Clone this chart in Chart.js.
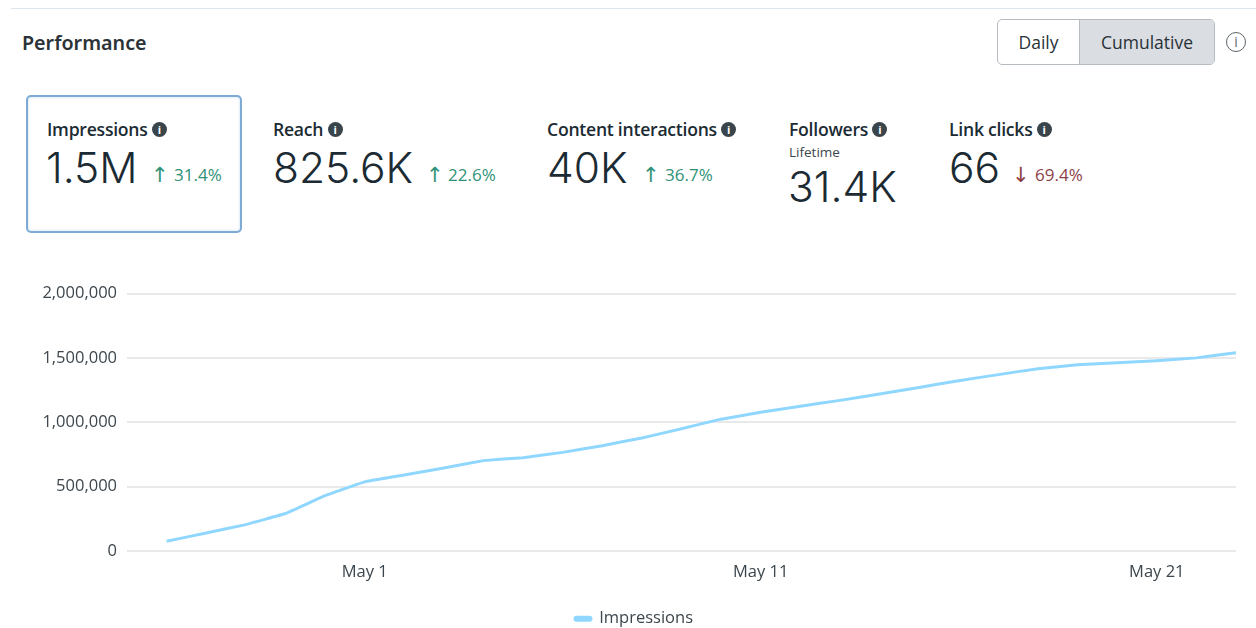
<!DOCTYPE html>
<html>
<head>
<meta charset="utf-8">
<script src="https://cdn.jsdelivr.net/npm/chart.js@4/dist/chart.umd.min.js"></script>
<style>
html, body { margin: 0; padding: 0; background: #fff; }
body { width: 1256px; height: 628px; position: relative; overflow: hidden; font-family: "Open Sans", sans-serif; color: #1c2b33; }
.abs { position: absolute; white-space: nowrap; }
#topline { left: 11px; right: 0; top: 8px; height: 1px; background: #dde8ee; }
#title { left: 22px; top: 31px; font: 600 19.7px/24px "Noto Sans", sans-serif; color: #2b3338; }
#toggle { left: 997px; top: 19px; width: 216px; height: 44px; border: 1px solid #b6bcc2; border-radius: 5px; display: flex; overflow: hidden; font-size: 17.5px; line-height: 44px; text-align: center; color: #283238; }
#toggle div:first-child { width: 81px; border-right: 1px solid #b6bcc2; }
#toggle div:last-child { flex: 1; background: #dadde2; }
#help { left: 1226px; top: 32px; width: 18px; height: 18px; border: 1.5px solid #5d656b; border-radius: 50%; text-align: center; font: 400 14px/18px "Open Sans", sans-serif; color: #5d656b; }
#card { left: 26px; top: 95px; width: 212px; height: 134px; border: 2px solid #7eabd6; border-radius: 5px; box-shadow: inset 0 0 3px #c6dcef; }
.label { font: 600 17.6px/22px "Open Sans", sans-serif; color: #1c2b33; letter-spacing: -0.25px; }
.dot { display: inline-block; width: 15px; height: 15px; border-radius: 50%; background: #3a444b; color: #fff; font: 700 11px/15px "Open Sans", sans-serif; text-align: center; vertical-align: 2px; letter-spacing: 0; }
.num { font: 300 42.5px/50px Inter, sans-serif; color: #1c2b33; }
.delta { font: 400 17px/22px "Open Sans", sans-serif; }
.arrow { font: 400 21px/22px "DejaVu Sans", sans-serif; }
.up { color: #2f9278; }
.down { color: #8d3f47; }
.sub { font: 400 13.5px/18px "Open Sans", sans-serif; color: #3c464c; }
#chartbox { position: absolute; left: 32px; top: 270px; width: 1224px; height: 367px; }
</style>
</head>
<body>
<div class="abs" id="topline"></div>
<div class="abs" id="title">Performance</div>
<div class="abs" id="toggle"><div>Daily</div><div>Cumulative</div></div>
<div class="abs" id="help">i</div>
<div class="abs" id="card"></div>

<div class="abs label" style="left:47px;top:118px">Impressions <span class="dot">i</span></div>
<div class="abs num" style="left:46px;top:143px">1.5M</div>
<div class="abs arrow up" style="left:151px;top:164px">↑</div>
<div class="abs delta up" style="left:174px;top:164px">31.4%</div>

<div class="abs label" style="left:273px;top:118px">Reach <span class="dot">i</span></div>
<div class="abs num" style="left:273px;top:143px">825.6K</div>
<div class="abs arrow up" style="left:426px;top:164px">↑</div>
<div class="abs delta up" style="left:448px;top:164px">22.6%</div>

<div class="abs label" style="left:547px;top:118px">Content interactions <span class="dot">i</span></div>
<div class="abs num" style="left:547px;top:143px">40K</div>
<div class="abs arrow up" style="left:642px;top:164px">↑</div>
<div class="abs delta up" style="left:665px;top:164px">36.7%</div>

<div class="abs label" style="left:789px;top:118px">Followers <span class="dot">i</span></div>
<div class="abs sub" style="left:789px;top:143px">Lifetime</div>
<div class="abs num" style="left:788px;top:162px">31.4K</div>

<div class="abs label" style="left:949px;top:118px">Link clicks <span class="dot">i</span></div>
<div class="abs num" style="left:949px;top:143px">66</div>
<div class="abs arrow down" style="left:1012px;top:164px">↓</div>
<div class="abs delta down" style="left:1035px;top:164px">69.4%</div>

<div id="chartbox"><canvas id="chart" width="1224" height="367"></canvas></div>

<script>
// first label is the empty day the axis leaves before the data starts
const days = ["Apr 25", "Apr 26", "Apr 27", "Apr 28", "Apr 29", "Apr 30",
  "May 1", "May 2", "May 3", "May 4", "May 5", "May 6", "May 7", "May 8", "May 9", "May 10",
  "May 11", "May 12", "May 13", "May 14", "May 15", "May 16", "May 17", "May 18", "May 19", "May 20",
  "May 21", "May 22", "May 23"];
const impressions = [null, 76000, 140000, 205000, 291000, 430000,
  537000, 590000, 644000, 702000, 725000, 766000, 818000, 878000, 950000, 1024000,
  1078000, 1125000, 1170000, 1220000, 1270000, 1323000, 1370000, 1416000, 1447000, 1463000,
  1478000, 1500000, 1540000];
const xTickLabels = ["May 1", "May 11", "May 21"];
const yTickValues = [0, 500000, 1000000, 1500000, 2000000];

const tickFont = { family: "'Open Sans', sans-serif", size: 16.5 };

new Chart(document.getElementById("chart"), {
  type: "line",
  data: {
    labels: days,
    datasets: [{
      label: "Impressions",
      data: impressions,
      borderColor: "#90d7ff",
      backgroundColor: "#90d7ff",
      borderWidth: 3,
      pointRadius: 0,
      tension: 0.05
    }]
  },
  options: {
    responsive: false,
    animation: false,
    layout: { padding: { top: 23.5, right: 20, left: 0, bottom: 0 } },
    scales: {
      x: {
        offset: false,
        grid: { display: false },
        border: { display: false },
        ticks: {
          autoSkip: false,
          maxRotation: 0,
          color: "#3c464c",
          font: tickFont,
          padding: 3,
          callback: function (value) {
            const name = this.getLabelForValue(value);
            return xTickLabels.includes(name) ? name : "";
          }
        },
        afterFit: function (scale) { scale.height = 58.5; }
      },
      y: {
        min: 0,
        max: 2000000,
        afterBuildTicks: function (scale) { scale.ticks = yTickValues.map(v => ({ value: v })); },
        grid: { color: "#e9e9e9", lineWidth: 2, drawTicks: false },
        border: { display: false },
        ticks: {
          color: "#3c464c",
          font: tickFont,
          padding: 10,
          callback: v => v.toLocaleString("en-US")
        },
        afterFit: function (scale) { scale.width = 95; }
      }
    },
    plugins: {
      legend: {
        position: "bottom",
        labels: {
          color: "#3c464c",
          font: tickFont,
          boxWidth: 16,
          boxHeight: 3,
          useBorderRadius: true,
          borderRadius: 1.5,
          padding: 1
        }
      },
      tooltip: { enabled: false }
    }
  }
});
</script>
</body>
</html>
